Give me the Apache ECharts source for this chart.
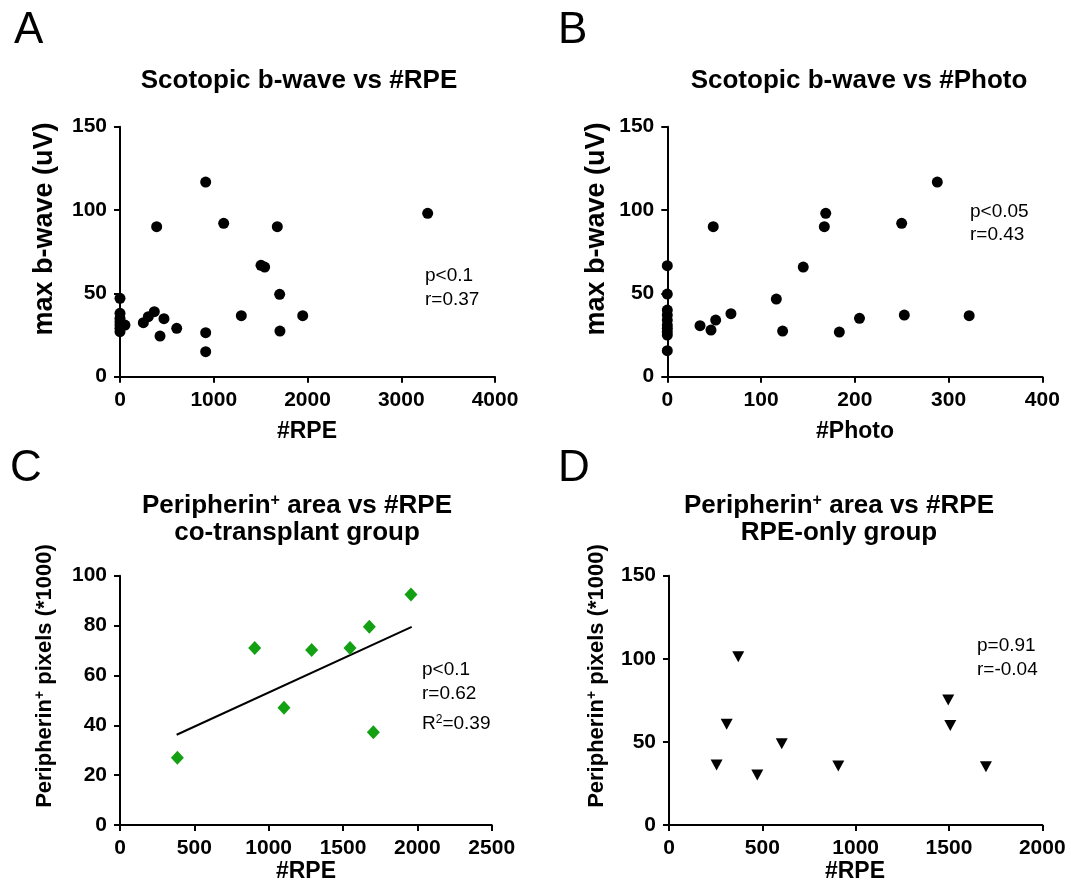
<!DOCTYPE html>
<html>
<head>
<meta charset="utf-8">
<script src="https://cdn.jsdelivr.net/npm/echarts@6/dist/echarts.min.js"></script>
<style>html,body{margin:0;padding:0;background:#fff}#c{width:1071px;height:890px}</style>
</head>
<body>
<div id="c"></div>
<script>
// Panel A: #RPE vs max b-wave
var rpeA   = [914, 3282, 391, 1106, 1678, 1504, 1543, 1703, 0, 0, 0, 0, 0, 0, 0, 53, 249, 302, 366, 469, 427, 605, 914, 914, 1294, 1949, 1706];
var bwaveA = [116.8, 98, 90, 92, 90, 66.8, 65.8, 49.4, 47, 38, 35, 33, 31, 29, 27, 31, 32.4, 36, 39, 34.8, 24.4, 29, 26.4, 15, 36.6, 36.6, 27.4];
// Panel B: #Photo vs max b-wave
var photoB = [34.9, 46.6, 51.6, 67.9, 49, 116.3, 123, 145, 169, 167.5, 183.5, 205, 250, 252.8, 288, 322, 0, 0, 0, 0, 0, 0, 0, 0, 0, 0];
var bwaveB = [30.6, 28, 34, 37.8, 90, 46.6, 27.4, 65.8, 98, 90, 26.8, 35, 92, 37, 116.8, 36.6, 66.6, 49.6, 40, 37, 34, 31, 29, 27, 25, 15.6];
// Panel C: #RPE vs Peripherin+ pixels, co-transplant group
var rpeC  = [386, 906, 1103, 1289, 1547, 1677, 1704, 1957];
var periC = [27, 71, 47, 70.2, 71, 79.5, 37.2, 92.5];
var fitCx = [381, 1962];
var fitCy = [36.2, 79.5];
// Panel D: #RPE vs Peripherin+ pixels, RPE-only group
var rpeD  = [255, 309, 371, 473, 604, 907, 1496, 1507, 1698];
var periD = [36.1, 60.6, 101.3, 30.1, 48.9, 35.5, 75.2, 59.8, 35.1];

var xMaxes = [4000, 400, 2500, 2000];
var xSteps = [1000, 100, 500, 500];
var yMaxes = [150, 150, 100, 150];
var ySteps = [50, 50, 20, 50];

function zip(a, b) { return a.map(function (v, i) { return [v, b[i]]; }); }

var FONT = '"Liberation Sans", Arial, sans-serif';
var grids = [
  {left: 120, top: 126.7, width: 375, height: 250},
  {left: 667.3, top: 126.7, width: 375, height: 250},
  {left: 120, top: 575.7, width: 371.7, height: 249.3},
  {left: 669, top: 575.7, width: 373.3, height: 249.3}
];
function axisCommon() {
  return {
    type: 'value',
    axisLine: {show: true, onZero: false, lineStyle: {color: '#000', width: 2}},
    axisTick: {show: true, length: 6, lineStyle: {color: '#000', width: 2}},
    splitLine: {show: false},
    axisLabel: {color: '#000', fontFamily: FONT, fontWeight: 'bold', fontSize: 21, margin: 13,
      showMinLabel: true, showMaxLabel: true, formatter: function (v) { return String(v); }}
  };
}
var xAxes = [], yAxes = [];
for (var i = 0; i < 4; i++) {
  var xa = axisCommon(); xa.gridIndex = i; xa.min = 0; xa.max = xMaxes[i]; xa.interval = xSteps[i];
  var ya = axisCommon(); ya.gridIndex = i; ya.min = 0; ya.max = yMaxes[i]; ya.interval = ySteps[i];
  xAxes.push(xa); yAxes.push(ya);
}

function txt(x, y, text, font, opts) {
  var o = {type: 'text', x: x, y: y, silent: true,
    style: {text: text, font: font, fill: '#000', align: (opts && opts.align) || 'center', verticalAlign: 'middle'}};
  if (opts && opts.rich) o.style.rich = opts.rich;
  if (opts && opts.rotation) o.rotation = opts.rotation;
  return o;
}
var bold26 = 'bold 26px ' + FONT;
var bold23 = 'bold 23px ' + FONT;
var bold22 = 'bold 22px ' + FONT;
var reg19 = '19px ' + FONT;
var letter = '44px ' + FONT;
var richTitle = {
  a: {font: bold26, fill: '#000'},
  s: {font: 'bold 16px ' + FONT, fill: '#000', verticalAlign: 'top', lineHeight: 26, padding: [0, 0, 12, 0]}
};
var richYl = {
  a: {font: bold22, fill: '#000'},
  s: {font: 'bold 14px ' + FONT, fill: '#000', verticalAlign: 'top', padding: [0, 0, 10, 0]}
};
var richR2 = {
  a: {font: reg19, fill: '#000'},
  s: {font: '12px ' + FONT, fill: '#000', verticalAlign: 'top', padding: [0, 0, 8, 0]}
};

var graphics = [
  txt(14, 31, 'A', letter, {align: 'left'}),
  txt(558, 31, 'B', letter, {align: 'left'}),
  txt(10, 469, 'C', letter, {align: 'left'}),
  txt(558, 469, 'D', letter, {align: 'left'}),
  txt(299, 81, 'Scotopic b-wave vs #RPE', bold26),
  txt(859, 81, 'Scotopic b-wave vs #Photo', bold26),
  txt(297, 506, '{a|Peripherin}{s|+}{a| area vs #RPE}', bold26, {rich: richTitle}),
  txt(297, 533, 'co-transplant group', bold26),
  txt(839, 506, '{a|Peripherin}{s|+}{a| area vs #RPE}', bold26, {rich: richTitle}),
  txt(839, 533, 'RPE-only group', bold26),
  txt(45, 229, 'max b-wave (uV)', 'bold 27px ' + FONT, {rotation: Math.PI / 2}),
  txt(597, 229, 'max b-wave (uV)', 'bold 27px ' + FONT, {rotation: Math.PI / 2}),
  txt(45, 676, '{a|Peripherin}{s|+}{a| pixels (*1000)}', bold22, {rich: richYl, rotation: Math.PI / 2}),
  txt(597, 676, '{a|Peripherin}{s|+}{a| pixels (*1000)}', bold22, {rich: richYl, rotation: Math.PI / 2}),
  txt(307, 432, '#RPE', bold23),
  txt(855, 432, '#Photo', bold23),
  txt(306, 872, '#RPE', bold23),
  txt(855, 872, '#RPE', bold23),
  txt(425, 276, 'p<0.1', reg19, {align: 'left'}),
  txt(425, 300, 'r=0.37', reg19, {align: 'left'}),
  txt(970, 212, 'p<0.05', reg19, {align: 'left'}),
  txt(970, 235, 'r=0.43', reg19, {align: 'left'}),
  txt(422, 670, 'p<0.1', reg19, {align: 'left'}),
  txt(422, 694, 'r=0.62', reg19, {align: 'left'}),
  txt(422, 724, '{a|R}{s|2}{a|=0.39}', reg19, {align: 'left', rich: richR2}),
  txt(977, 646, 'p=0.91', reg19, {align: 'left'}),
  txt(977, 670, 'r=-0.04', reg19, {align: 'left'})
];

var chart = echarts.init(document.getElementById('c'), null, {renderer: 'canvas'});
chart.setOption({
  animation: false,
  backgroundColor: '#fff',
  grid: grids,
  xAxis: xAxes,
  yAxis: yAxes,
  series: [
    {type: 'scatter', xAxisIndex: 0, yAxisIndex: 0, data: zip(rpeA, bwaveA), symbol: 'circle', symbolSize: 11, itemStyle: {color: '#000', opacity: 1}},
    {type: 'scatter', xAxisIndex: 1, yAxisIndex: 1, data: zip(photoB, bwaveB), symbol: 'circle', symbolSize: 11, itemStyle: {color: '#000', opacity: 1}},
    {type: 'line', xAxisIndex: 2, yAxisIndex: 2, data: zip(fitCx, fitCy), showSymbol: false, lineStyle: {color: '#000', width: 2}, z: 1},
    {type: 'scatter', xAxisIndex: 2, yAxisIndex: 2, data: zip(rpeC, periC), symbol: 'diamond', symbolSize: [13, 14], itemStyle: {color: '#13a113', opacity: 1}, z: 3},
    {type: 'scatter', xAxisIndex: 3, yAxisIndex: 3, data: zip(rpeD, periD), symbol: 'triangle', symbolRotate: 180, symbolSize: [12, 11], itemStyle: {color: '#000', opacity: 1}}
  ],
  graphic: graphics
});
</script>
</body>
</html>
